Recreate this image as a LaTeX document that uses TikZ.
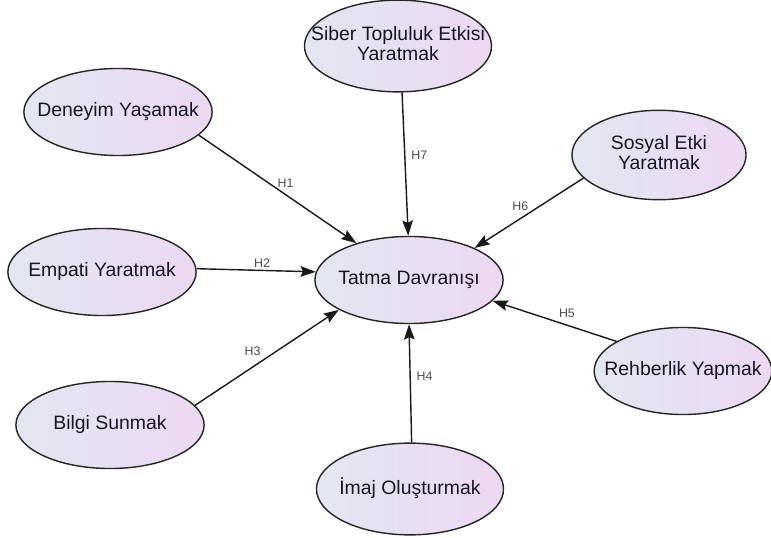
\documentclass[tikz,border=0pt]{standalone}
\usepackage{fontspec}
\setmainfont{Liberation Sans}
\usetikzlibrary{arrows.meta,shapes.geometric}
\definecolor{ellleft}{RGB}{226,231,241}
\definecolor{ellright}{RGB}{237,216,242}
\definecolor{ink}{RGB}{22,22,34}
\newcommand{\etext}[1]{\makebox[0pt]{\begin{tabular}{@{}c@{}}#1\end{tabular}}}
\tikzset{latent/.style={ellipse,draw=black!85,line width=1.2pt,left color=ellleft,right color=ellright,
  inner sep=0pt,minimum width=160pt,minimum height=74pt,text=ink,font=\fontsize{16.5}{15}\selectfont},
  flow/.style={-{Stealth[length=13pt,width=9pt,inset=2pt]},line width=1.2pt,black!90},
  lab/.style={font=\fontsize{10.5}{11}\selectfont,text=black!70,inner sep=2pt}}
\begin{document}
\begin{tikzpicture}[x=0.85pt,y=-0.85pt]
\useasboundingbox (0,0) rectangle (771,538);
\node[latent] (tatma) at (409,280) {\etext{Tatma Davranışı}};
\node[latent,minimum width=159pt,minimum height=78pt] (siber) at (398,46) {\etext{Siber Topluluk Etkisi\\Yaratmak}};
\node[latent] (deneyim) at (118,112) {\etext{Deneyim Yaşamak}};
\node[latent,minimum width=148pt,minimum height=76pt] (sosyal) at (659,155) {\etext{Sosyal Etki\\Yaratmak}};
\node[latent] (empati) at (102,272) {\etext{Empati Yaratmak}};
\node[latent,minimum width=151pt] (rehber) at (683,371) {\etext{Rehberlik Yapmak}};
\node[latent] (bilgi) at (110,425) {\etext{Bilgi Sunmak}};
\node[latent,minimum width=159pt,minimum height=78pt] (imaj) at (410,489) {\etext{İmaj Oluşturmak}};
\draw[flow] (deneyim.-16) -- node[lab,pos=0.55,above=3pt] {H1} (tatma.145);
\draw[flow] (empati.2) -- node[lab,pos=0.55,above] {H2} (tatma.175);
\draw[flow] (bilgi.13) -- node[lab,pos=0.4,above=7pt] {H3} (tatma.-157);
\draw[flow] (imaj.88) -- node[lab,pos=0.56,right=3pt] {H4} (tatma.-90);
\draw[flow] (rehber.156) -- node[lab,pos=0.4,above=4pt] {H5} (tatma.-14);
\draw[flow] (sosyal.-163) -- node[lab,pos=0.58,above=4pt] {H6} (tatma.26);
\draw[flow] (siber.-85) -- node[lab,pos=0.44,right=3pt] {H7} (tatma.91);
\end{tikzpicture}
\end{document}
